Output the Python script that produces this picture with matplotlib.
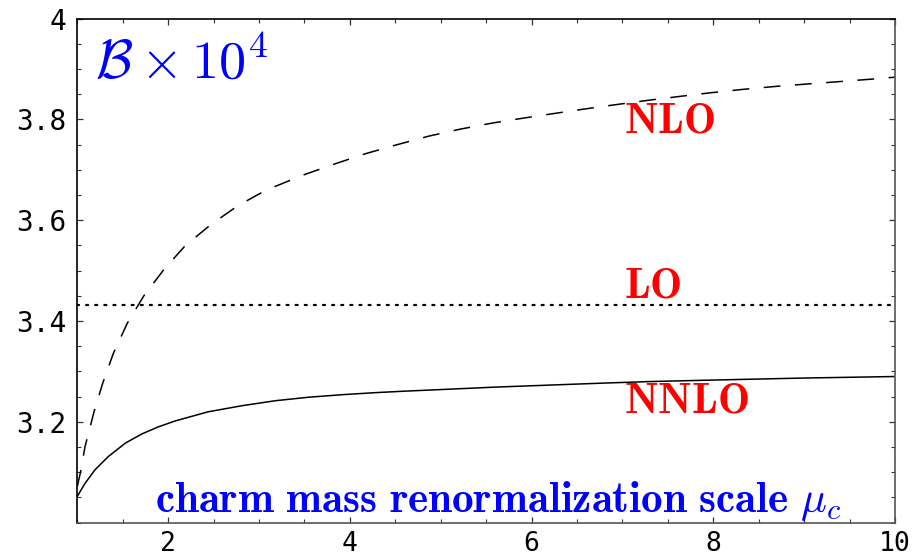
import numpy as np
import matplotlib
matplotlib.use("Agg")
import matplotlib.pyplot as plt
from matplotlib.ticker import MultipleLocator, FixedLocator

# === DATA ===
MU_NLO = [1.0, 1.035, 1.085, 1.184, 1.28, 1.397, 1.551, 1.732, 1.956, 2.19,
          2.467, 2.768, 3.08, 3.49, 3.82, 4.17, 4.52, 4.87, 5.22, 5.57, 5.92,
          6.29, 6.63, 6.95, 7.28, 7.64, 7.97, 8.34, 8.71, 9.08, 9.45, 9.81,
          10.0]
BR_NLO = [3.072, 3.100, 3.151, 3.220, 3.277, 3.336, 3.396, 3.450, 3.503,
          3.550, 3.591, 3.629, 3.660, 3.690, 3.711, 3.732, 3.750, 3.767, 3.781,
          3.793, 3.803, 3.813, 3.822, 3.830, 3.838, 3.846, 3.853, 3.860, 3.866,
          3.871, 3.876, 3.881, 3.884]

MU_NNLO = [1.0, 1.03, 1.085, 1.195, 1.34, 1.53, 1.71, 1.89, 2.08, 2.44, 2.81,
           3.18, 3.55, 3.92, 4.28, 4.61, 5.11, 5.6, 6.2, 6.8, 7.3, 8.0, 9.0,
           10.0]
BR_NNLO = [3.052, 3.0615, 3.078, 3.105, 3.131, 3.158, 3.176, 3.190, 3.202,
           3.220, 3.232, 3.242, 3.249, 3.254, 3.258, 3.261, 3.265, 3.269,
           3.273, 3.277, 3.280, 3.283, 3.287, 3.290]

BR_LO = 3.431

X_TICKS = [2, 4, 6, 8, 10]
Y_TICKS = [3.2, 3.4, 3.6, 3.8, 4.0]
Y_TICK_LABELS = ["3.2", "3.4", "3.6", "3.8", "4"]

# === STYLE ===
plt.rcParams["mathtext.fontset"] = "cm"
TICK_FONT = "DejaVu Sans Mono"
BLUE = "#0000ff"
RED = "#ff0000"


def main():
    fig = plt.figure(figsize=(9.16, 5.58), dpi=100)
    ax = fig.add_axes([0.0844, 0.0633, 0.8926, 0.9032])

    ax.plot(MU_NLO, BR_NLO, color="black", lw=1.1, dashes=(11.0, 9.5))
    ax.axhline(BR_LO, color="black", lw=1.6, dashes=(0.9, 3.2),
               dash_capstyle="round")
    ax.plot(MU_NNLO, BR_NNLO, color="black", lw=1.1)

    ax.set_xlim(1, 10)
    ax.set_ylim(3.0, 4.0)

    ax.xaxis.set_major_locator(FixedLocator(X_TICKS))
    ax.xaxis.set_minor_locator(MultipleLocator(0.5))
    ax.yaxis.set_major_locator(FixedLocator(Y_TICKS))
    ax.yaxis.set_minor_locator(MultipleLocator(0.05))
    ax.set_yticklabels(Y_TICK_LABELS)

    ax.tick_params(which="both", direction="in", top=True, right=True,
                   colors="#333333", labelcolor="black")
    ax.tick_params(which="major", length=4, width=0.9)
    ax.tick_params(which="minor", length=3, width=0.8)
    ax.tick_params(axis="y", which="major", pad=8)
    ax.tick_params(axis="x", which="major", pad=6)
    for lab in ax.get_yticklabels():
        lab.set_fontfamily(TICK_FONT)
        lab.set_fontsize(20)
    for lab in ax.get_xticklabels():
        lab.set_fontfamily(TICK_FONT)
        lab.set_fontsize(19)

    ax.spines["left"].set_color("black")
    ax.spines["top"].set_color("black")
    ax.spines["bottom"].set_color("#555555")
    ax.spines["right"].set_color("#555555")
    for sp in ax.spines.values():
        sp.set_linewidth(1.2)

    # annotations
    ax.text(1.195, 3.882, r"$\mathcal{B}\times10^4$", color=BLUE,
            fontsize=39, ha="left", va="baseline")
    ax.text(1.857, 3.021,
            r"$\mathbf{charm\ mass\ renormalization\ scale}\ \mu_c$",
            color=BLUE, fontsize=31, ha="left", va="baseline")
    ax.text(7.017, 3.775, r"$\mathbf{NLO}$", color=RED, fontsize=31,
            ha="left", va="baseline")
    ax.text(7.017, 3.446, r"$\mathbf{LO}$", color=RED, fontsize=31,
            ha="left", va="baseline")
    ax.text(7.017, 3.219, r"$\mathbf{NNLO}$", color=RED, fontsize=31,
            ha="left", va="baseline")

    fig.savefig("out.png", dpi=100)
    plt.close(fig)


if __name__ == "__main__":
    main()
